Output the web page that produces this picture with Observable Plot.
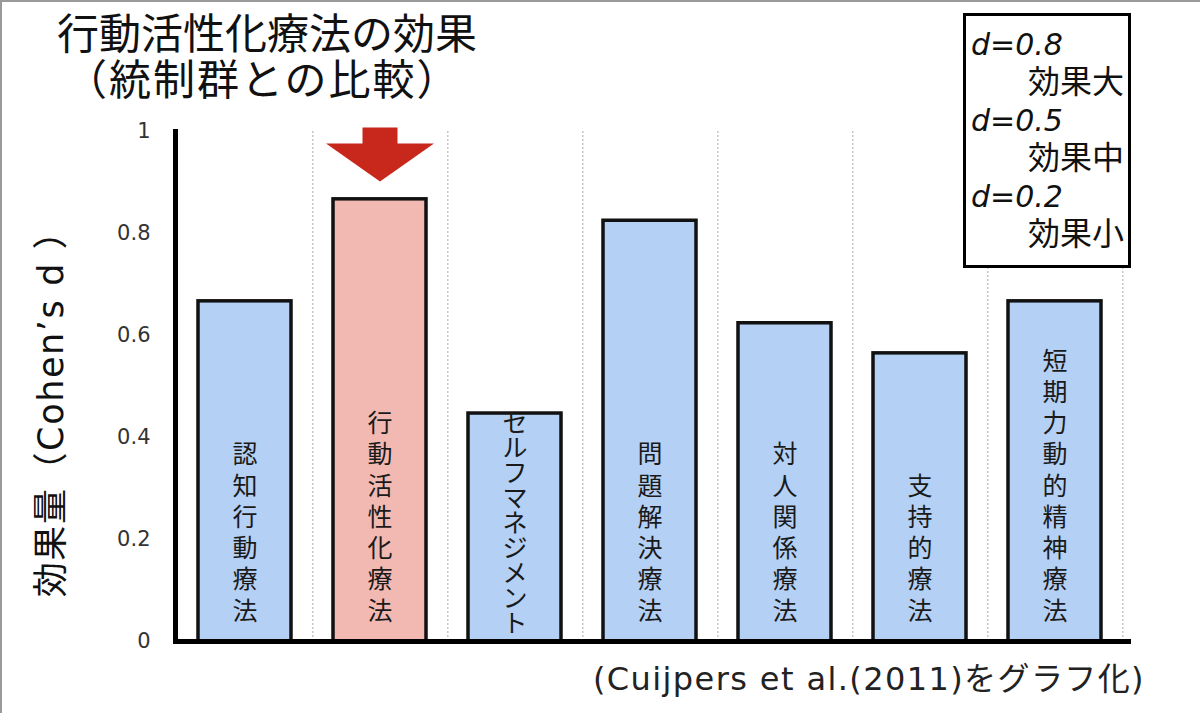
<!DOCTYPE html>
<html>
<head>
<meta charset="utf-8">
<script src="https://cdn.jsdelivr.net/npm/d3@7"></script>
<script src="https://cdn.jsdelivr.net/npm/@observablehq/plot@0.6"></script>
<style>
  html, body { margin: 0; padding: 0; background: #fff; }
  #wrap { position: relative; width: 1200px; height: 713px; overflow: hidden; background: #fff;
          font-family: "DejaVu Sans", "Noto Sans CJK JP", sans-serif; color: #111; }
  #wrap svg { position: absolute; left: 0; top: 0; }
  .frameborder { position: absolute; left: 0; top: 0; width: 1200px; height: 713px; box-sizing: border-box;
                 border-top: 2px solid #9a9a9a; border-left: 2px solid #9a9a9a; pointer-events: none; }
  .title { position: absolute; font-family: "Noto Sans CJK JP", sans-serif; font-size: 42px; line-height: 47px;
           white-space: nowrap; color: #111; }
  .ylabel { position: absolute; left: 51px; top: 405px; transform: translate(-50%, -50%) rotate(-90deg);
            white-space: nowrap; font-size: 35px; line-height: 38px; color: #111; letter-spacing: 1.6px;
            font-family: "DejaVu Sans", "Noto Sans CJK JP", sans-serif; }
  .legend { position: absolute; left: 963px; top: 13px; width: 168px; height: 255px; box-sizing: border-box;
            border: 3px solid #000; background: #fff; }
  .legend .val { position: absolute; left: 5px; font-family: "DejaVu Sans", sans-serif; font-style: italic;
                 font-size: 30px; line-height: 34px; white-space: nowrap; color: #111; }
  .legend .lab { position: absolute; right: 4px; font-family: "Noto Sans CJK JP", sans-serif;
                 font-size: 32px; line-height: 36px; white-space: nowrap; color: #111; }
  .caption { position: absolute; right: 55px; top: 660px; font-size: 32px; line-height: 38px; white-space: nowrap;
             letter-spacing: 1.4px; font-family: "DejaVu Sans", "Noto Sans CJK JP", sans-serif; color: #222; }
</style>
</head>
<body>
<div id="wrap"></div>
<script>
// ---- data ----
const titleLines = ["行動活性化療法の効果", "（統制群との比較）"];
const yAxisLabel = "効果量（Cohen’s d ）";
const categories = ["認知行動療法", "行動活性化療法", "セルフマネジメント", "問題解決療法", "対人関係療法", "支持的療法", "短期力動的精神療法"];
const effectSizes = [0.667, 0.867, 0.447, 0.825, 0.624, 0.565, 0.667];
const highlighted = "行動活性化療法";
const yTicks = [0, 0.2, 0.4, 0.6, 0.8, 1];
const legendValues = ["d=0.8", "d=0.5", "d=0.2"];
const legendLabels = ["効果大", "効果中", "効果小"];
const caption = "(Cuijpers et al.(2011)をグラフ化)";
const arrowLevel = 0.955;

// ---- layout ----
const W = 1200, H = 713;
const mL = 175, mR = 75, mT = 131, mB = 72;
const step = (W - mL - mR) / categories.length;

const table = categories.map((name, i) => ({
  name, value: effectSizes[i], group: name === highlighted ? "highlight" : "other",
  kana: /^[\u30A0-\u30FF]+$/.test(name)
}));

// custom down-arrow symbol (shape in pixels around its anchor)
const downArrow = {
  draw(ctx) {
    ctx.moveTo(-17.5, -27);
    ctx.lineTo(17.5, -27);
    ctx.lineTo(17.5, -11);
    ctx.lineTo(54, -11);
    ctx.lineTo(0, 27);
    ctx.lineTo(-54, -11);
    ctx.lineTo(-17.5, -11);
    ctx.closePath();
  }
};

const vertical = d => Array.from(d.name).join("\n");

const chart = Plot.plot({
  width: W, height: H,
  marginLeft: mL, marginRight: mR, marginTop: mT, marginBottom: mB,
  style: { fontFamily: "'DejaVu Sans', 'Noto Sans CJK JP', sans-serif", background: "transparent", overflow: "visible" },
  x: { domain: categories, paddingInner: 0.31, paddingOuter: 0.155, axis: null },
  y: { domain: [0, 1], axis: null },
  color: { domain: ["other", "highlight"], range: ["#b4d0f5", "#f2b9b2"] },
  marks: [
    Plot.ruleX(categories, { x: d => d, dx: step / 2, y1: 0, y2: 1, stroke: "#a8a8a8", strokeWidth: 1, strokeDasharray: "2,2" }),
    Plot.barY(table, { x: "name", y: "value", fill: "group", stroke: "#111", strokeWidth: 3.5 }),
    Plot.text(table.filter(d => !d.kana), {
      x: "name", y: 0, text: vertical,
      lineAnchor: "bottom", lineHeight: 1.25, fontSize: 25, dy: -22, fill: "#1a1a1a",
      fontFamily: "'Noto Sans CJK JP', sans-serif"
    }),
    Plot.text(table.filter(d => d.kana), {
      x: "name", y: 0, text: vertical,
      lineAnchor: "bottom", lineHeight: 1.0, fontSize: 25, dy: -10, fill: "#1a1a1a",
      fontFamily: "'Noto Sans CJK JP', sans-serif"
    }),
    Plot.axisY({ ticks: yTicks, tickSize: 0, tickPadding: 25, tickFormat: d => String(d), fontSize: 21, fill: "#333", label: null }),
    Plot.ruleY([0], { stroke: "#000", strokeWidth: 5, insetRight: -6 }),
    Plot.frame({ anchor: "left", stroke: "#000", strokeWidth: 5 }),
    Plot.dot([highlighted], { x: d => d, y: () => arrowLevel, symbol: downArrow, r: 10, fill: "#c8281c", stroke: null })
  ]
});

const wrap = document.getElementById("wrap");
wrap.appendChild(chart);

// title
const t1 = document.createElement("div");
t1.className = "title"; t1.style.left = "57px"; t1.style.top = "7px"; t1.textContent = titleLines[0];
wrap.appendChild(t1);
const t2 = document.createElement("div");
t2.className = "title"; t2.style.left = "65px"; t2.style.top = "53px"; t2.style.letterSpacing = "2px";
t2.textContent = titleLines[1];
wrap.appendChild(t2);

// y label
const yl = document.createElement("div");
yl.className = "ylabel"; yl.textContent = yAxisLabel;
wrap.appendChild(yl);

// legend
const lg = document.createElement("div");
lg.className = "legend";
const valTops = [12, 88, 164];
const labTops = [45, 121, 197];
legendValues.forEach((v, i) => {
  const a = document.createElement("div");
  a.className = "val"; a.style.top = valTops[i] + "px"; a.textContent = v; lg.appendChild(a);
  const b = document.createElement("div");
  b.className = "lab"; b.style.top = labTops[i] + "px"; b.textContent = legendLabels[i]; lg.appendChild(b);
});
wrap.appendChild(lg);

// caption
const cp = document.createElement("div");
cp.className = "caption"; cp.textContent = caption;
wrap.appendChild(cp);

const fb = document.createElement("div");
fb.className = "frameborder";
wrap.appendChild(fb);
</script>
</body>
</html>
